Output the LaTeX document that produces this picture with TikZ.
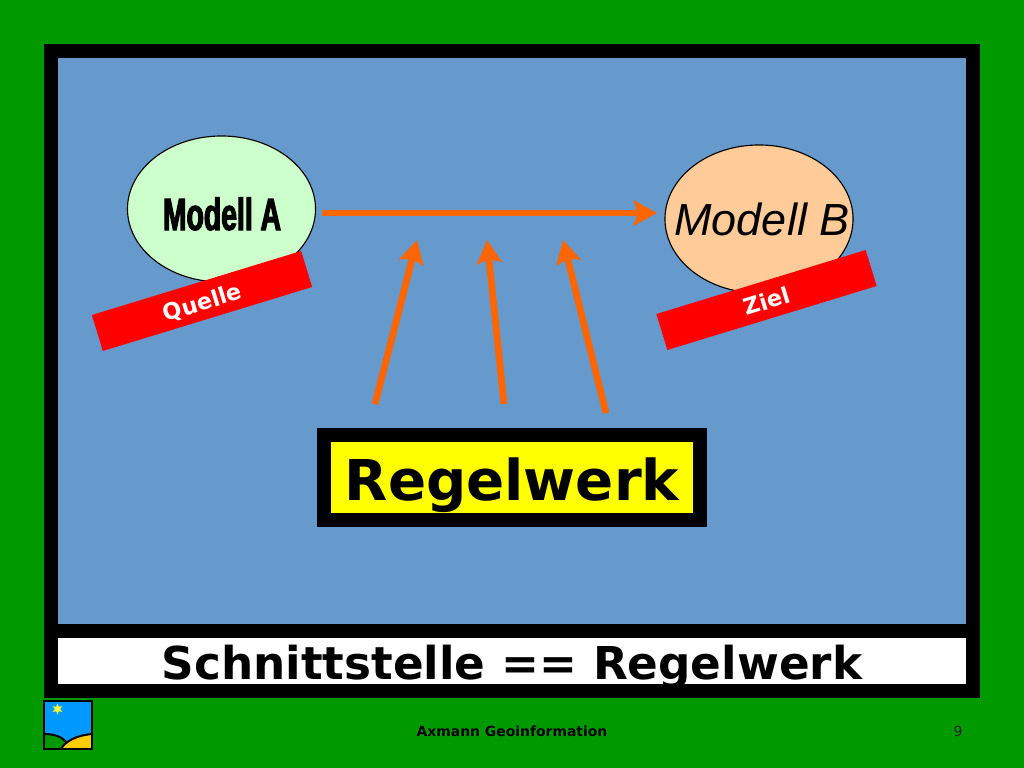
\documentclass[tikz,border=0pt]{standalone}
\usepackage{xcolor}
\usepackage{fontspec}
\usepackage{tikz}
\usetikzlibrary{
  arrows.meta,
  shapes.geometric,
  positioning
}
\setmainfont{DejaVu Sans}
\newfontfamily\arialfont{Liberation Sans}
\newfontfamily\narrowfont[FakeStretch=0.63,FakeBold=2.5]{Liberation Sans Bold}
\definecolor{slGreen}{HTML}{009900}
\definecolor{slBlue}{HTML}{6699CC}
\definecolor{slMint}{HTML}{CCFFCC}
\definecolor{slPeach}{HTML}{FFCC99}
\definecolor{slOrange}{HTML}{FF6600}
\definecolor{slSky}{HTML}{0099FF}
\definecolor{slGold}{HTML}{FFCC00}
\definecolor{slYellow}{HTML}{FFFF00}
\definecolor{slRed}{HTML}{FF0000}
\tikzset{
  model/.style={draw=black, ellipse, inner sep=0pt, minimum width=4.7cm, thick},
  ribbon/.style={fill=slRed, text=white, rotate=17, minimum width=5.47cm, minimum height=0.94cm,
    inner sep=0pt, text height=0.47cm, text depth=0pt, font=\fontsize{16}{19}\bfseries},
  rules/.style={draw=black, fill=slYellow, line width=0.35cm, minimum width=9.4cm, minimum height=2.125cm,
    inner sep=0pt, text height=1.25cm, text depth=0.125cm, font=\fontsize{40}{48}\bfseries},
  flow/.style={-{Stealth[length=0.58cm, width=0.62cm, inset=0.1cm]}, line width=0.17cm, slOrange},
  logoline/.style={draw=black, line width=0.05cm}
}
\begin{document}
\begin{tikzpicture}[x=0.025cm, y=-0.025cm]
  \useasboundingbox (0,0) rectangle (1024,768);
  \fill[slGreen] (0,0) rectangle (1024,768);
  \fill[black] (44,44) rectangle (980,698);
  \fill[slBlue] (58,58) rectangle (966,624);
  \fill[white] (58,638) rectangle (966,684);
  % models
  \node[model, fill=slMint, minimum height=3.65cm] (modA) at (221.5,209) {};
  \node[anchor=base, font=\fontsize{32}{38}\narrowfont] (labA) at (222,230) {Modell A};
  \node[model, fill=slPeach, minimum height=3.7cm] (modB) at (759,219) {};
  \node[anchor=base, font=\fontsize{32}{38}\arialfont\itshape] (labB) at (762,235) {Modell B};
  \node[ribbon] (quelle) at (202,301) {Quelle};
  \node[ribbon] (ziel) at (766.5,300) {Ziel};
  % rule set
  \node[rules] (regel) at (512,477.5) {Regelwerk};
  \coordinate (srcA) at (322,213);
  \coordinate (dstB) at (657,213);
  \coordinate (tailL) at (375,404);
  \coordinate (tailM) at (504,404);
  \coordinate (tailR) at (606,413);
  \coordinate (tipL) at (417,240);
  \coordinate (tipM) at (487,240);
  \coordinate (tipR) at (563,240);
  \draw[flow] (srcA) -- (dstB);
  \draw[flow] (tailL) -- (tipL);
  \draw[flow] (tailM) -- (tipM);
  \draw[flow] (tailR) -- (tipR);
  \node[anchor=base, font=\fontsize{32.2}{38}\bfseries] (title) at (512,679) {Schnittstelle == Regelwerk};
  % footer
  \fill[slSky] (44,701) rectangle (92,749);
  \fill[slGreen] (44,734) .. controls (55,734) and (62,737) .. (66,742) -- (61,749) -- (44,749) -- cycle;
  \fill[slGold] (61,749) .. controls (65,741) and (78,735) .. (92,734) -- (92,749) -- cycle;
  \draw[logoline] (44,734) .. controls (55,734) and (62,737) .. (66,742);
  \draw[logoline] (61,749) .. controls (65,741) and (78,735) .. (92,734);
  \draw[logoline] (44,701) rectangle (92,749);
  \node[star, star points=6, star point ratio=2.2, fill=slYellow!80!white, inner sep=0pt, minimum size=0.28cm] (sun) at (57.5,709) {};
  \node[anchor=base, font=\fontsize{9.9}{12}\bfseries] (foot) at (512,736) {Axmann Geoinformation};
  \node[anchor=base, font=\fontsize{9.9}{12}, text=black!85] (page) at (958,736) {9};
\end{tikzpicture}
\end{document}
